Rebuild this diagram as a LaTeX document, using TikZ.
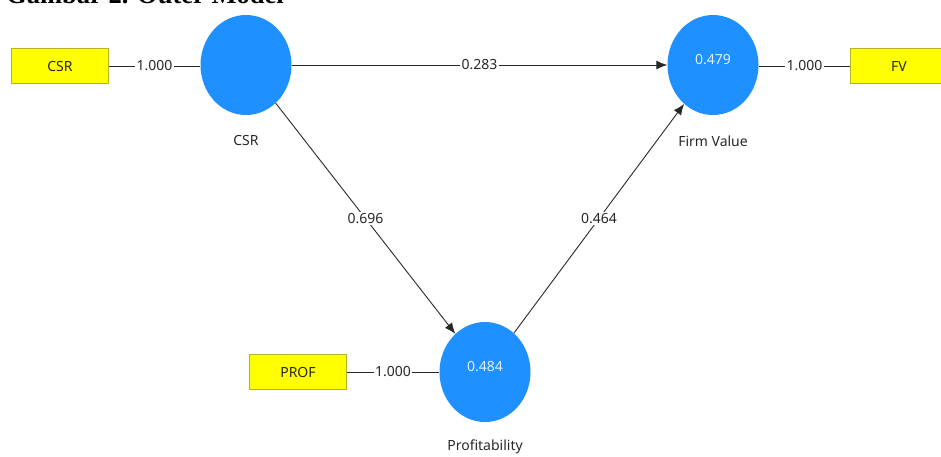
\documentclass[tikz,border=0pt]{standalone}
\usepackage{fontspec}
\setmainfont{Noto Sans}
\newfontfamily\titlefont{Liberation Serif}
\usetikzlibrary{arrows.meta,positioning,shapes.geometric}
\definecolor{plsBlue}{RGB}{30, 144, 255}
\definecolor{plsYellow}{RGB}{255, 255, 0}
\definecolor{plsEdge}{RGB}{180, 180, 30}
\definecolor{inkDark}{RGB}{40, 40, 40}
\definecolor{inkValue}{RGB}{225, 240, 255}

\begin{document}
\begin{tikzpicture}[x=1pt, y=-1pt,
    latent/.style={ellipse, fill=plsBlue, draw=none, minimum width=91pt, minimum height=100pt, inner sep=0pt},
    indicator/.style={rectangle, fill=plsYellow, draw=plsEdge, line width=0.8pt, minimum width=97pt, minimum height=35pt, inner sep=0pt, text=inkDark, font=\fontsize{14pt}{16pt}\selectfont},
    latname/.style={text=inkDark, font=\fontsize{14pt}{16pt}\selectfont},
    rsq/.style={text=inkValue, font=\fontsize{14pt}{16pt}\selectfont},
    weight/.style={fill=white, inner sep=1.5pt, text=inkDark, font=\fontsize{14pt}{16pt}\selectfont},
    outer/.style={draw=inkDark, line width=0.9pt},
    path/.style={draw=inkDark, line width=0.9pt, -{Latex[length=11pt,width=9pt]}}]
    \useasboundingbox (0,0) rectangle (941,456);
    \clip (0,0) rectangle (941,456);
    % caption, cut off at the top edge
    \node[anchor=base west, inner sep=0pt, font=\titlefont\bfseries\fontsize{26.5pt}{28pt}\selectfont] (caption) at (6,3.5) {Gambar 2. Outer Model};
    % constructs
    \node[latent] (csr) at (246,65) {};
    \node[latent] (fval) at (713,65) {};
    \node[latent] (prof) at (485,372) {};
    \node[rsq] (fvalr) at (713,60) {0.479};
    \node[rsq] (profr) at (485,367) {0.484};
    \node[latname] (csrname) at (246,140) {CSR};
    \node[latname] (fvalname) at (713,141) {Firm Value};
    \node[latname] (profname) at (485,447) {Profitability};
    % indicators
    \node[indicator] (csrind) at (60,66) {CSR};
    \node[indicator] (fvind) at (899,66) {FV};
    \node[indicator] (profind) at (298,372) {PROF};
    % loadings
    \draw[outer] (csrind.east) -- node[weight] {1.000} (csr.west |- csrind.east);
    \draw[outer] (fval.east |- fvind.west) -- node[weight] {1.000} (fvind.west);
    \draw[outer] (profind.east) -- node[weight] {1.000} (prof.west |- profind.east);
    % structural paths
    \draw[path] (csr) -- node[weight] {0.283} (fval);
    \draw[path] (csr) -- node[weight] {0.696} (prof);
    \draw[path] (prof) -- node[weight] {0.464} (fval);
\end{tikzpicture}
\end{document}
